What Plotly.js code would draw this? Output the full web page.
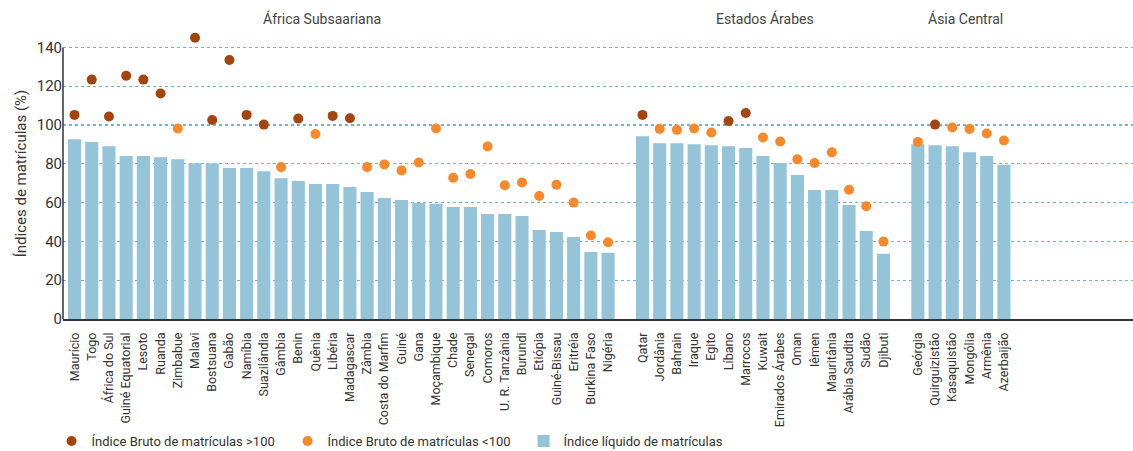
<!DOCTYPE html>
<html>
<head>
<meta charset="utf-8">
<script src="https://cdn.plot.ly/plotly-3.0.1.min.js"></script>
<style>html,body{margin:0;padding:0;background:#fff;}#chart{width:1133px;height:451px;}</style>
</head>
<body>
<div id="chart"></div>
<script>
// Groups
const groupNames = ["África Subsaariana", "Estados Árabes", "Ásia Central"];
const africa = ["Maurício","Togo","África do Sul","Guiné Equatorial","Lesoto","Ruanda","Zimbabue","Malavi","Bostsuana","Gabão","Namíbia","Suazilândia","Gâmbia","Benin","Quênia","Libéria","Madagascar","Zâmbia","Costa do Marfim","Guiné","Gana","Moçambique","Chade","Senegal","Comoros","U. R. Tanzânia","Burundi","Etiópia","Guiné-Bissau","Eritréia","Burkina Faso","Nigéria"];
const arab = ["Qatar","Jordânia","Bahrain","Iraque","Egito","Líbano","Marrocos","Kuwait","Emirados Árabes","Oman","Iêmen","Mauritânia","Arábia Saudita","Sudão","Djibuti"];
const centralAsia = ["Geórgia","Quirguizistão","Kasaquistão","Mongólia","Armênia","Azerbaijão"];

// Net enrolment ratio (bars)
const netAfrica = [92.7,91.2,89.1,84.0,84.0,83.4,82.4,80.3,80.3,77.8,77.8,76.2,72.6,71.1,69.6,69.6,68.0,65.5,62.4,61.4,59.8,59.4,57.7,57.7,54.1,54.1,53.1,45.9,44.9,42.3,34.6,34.1];
const netArab = [94.2,90.6,90.6,90.1,89.6,89.1,88.1,84.0,80.4,74.2,66.5,66.5,58.8,45.4,33.6];
const netAsia = [90.1,89.6,89.1,86.0,84.0,79.5];

// Gross enrolment ratio (dots)
const grossAfrica = [105.2,123.4,104.4,125.4,123.4,116.2,98.2,145.0,102.6,133.5,105.2,100.2,78.3,103.3,95.4,104.7,103.5,78.3,79.7,76.6,80.7,98.2,72.8,74.7,88.9,68.9,70.4,63.4,69.2,60.0,43.0,39.6];
const grossArab = [105.2,98.0,97.5,98.2,96.1,102.0,106.2,93.6,91.5,82.3,80.4,85.9,66.6,58.1,39.9];
const grossAsia = [91.3,100.2,98.7,98.0,95.6,92.0];

const legendNames = ["Índice Bruto de matrículas >100","Índice Bruto de matrículas <100","Índice líquido de matrículas"];
const yTicks = [0,20,40,60,80,100,120,140];

// Build positions (one empty slot between groups)
const groups = [africa, arab, centralAsia];
const nets = [netAfrica, netArab, netAsia];
const grosses = [grossAfrica, grossArab, grossAsia];
let xs=[], labels=[], net=[], gross=[], groupCenters=[];
let pos=0;
groups.forEach((g,gi)=>{
  const start=pos;
  g.forEach((c,i)=>{ xs.push(pos); labels.push(c); net.push(nets[gi][i]); gross.push(grosses[gi][i]); pos++; });
  groupCenters.push((start+pos-1)/2);
  pos++;
});
const hiX=[],hiY=[],loX=[],loY=[];
gross.forEach((v,i)=>{ if(v>100){hiX.push(xs[i]);hiY.push(v);} else {loX.push(xs[i]);loY.push(v);} });

const font = "'Liberation Sans Narrow','Roboto',sans-serif";
const traces = [
  {type:'scatter',mode:'markers',x:hiX,y:hiY,name:legendNames[0],marker:{color:'#A4440F',size:10}},
  {type:'scatter',mode:'markers',x:loX,y:loY,name:legendNames[1],marker:{color:'#F7892A',size:10}},
  {type:'bar',x:xs,y:net,name:legendNames[2],marker:{color:'#95C3D8'},width:0.76}
];
const groupOffsets=[-1.1,0.1,0.25];
const layout = {
  width:1133,height:451,
  margin:{l:63,r:0,t:28,b:132},
  paper_bgcolor:'#fff',plot_bgcolor:'#fff',
  font:{family:font,color:'#333',size:13},
  showlegend:true,
  legend:{orientation:'h',xref:'container',yref:'container',x:0.0455,xanchor:'left',y:0.022,yanchor:'middle',font:{size:13,color:'#333'},traceorder:'normal',entrywidth:191,entrywidthmode:'pixels',itemwidth:30,tracegroupgap:0},
  xaxis:{range:[-0.67,61.5],tickvals:xs,ticktext:labels,tickangle:-90,tickfont:{size:12.5,color:'#333'},ticklabelstandoff:7,showgrid:false,zeroline:false,showline:true,linecolor:'#333',linewidth:1.5,ticks:'',fixedrange:true},
  yaxis:{range:[0,150],tickvals:yTicks,showgrid:true,gridcolor:'#6FB2DA',griddash:'dot',gridwidth:1.2,zeroline:false,showline:false,ticks:'',tickfont:{size:15,color:'#333'},
    title:{text:'Índices de matrículas (%)',font:{size:15,color:'#333'},standoff:6}},
  shapes:[{type:'line',xref:'paper',yref:'y',x0:0,x1:0,y0:0,y1:yTicks[yTicks.length-1],line:{color:'#333',width:1.5}}],
  annotations: groupNames.map((n,i)=>({x:groupCenters[i]+groupOffsets[i],y:1.034,xref:'x',yref:'paper',text:n,showarrow:false,font:{size:14,color:'#444'},xanchor:'center',yanchor:'middle'})),
  bargap:0.2
};
Plotly.newPlot('chart',traces,layout,{displayModeBar:false,staticPlot:true});
</script>
</body>
</html>
